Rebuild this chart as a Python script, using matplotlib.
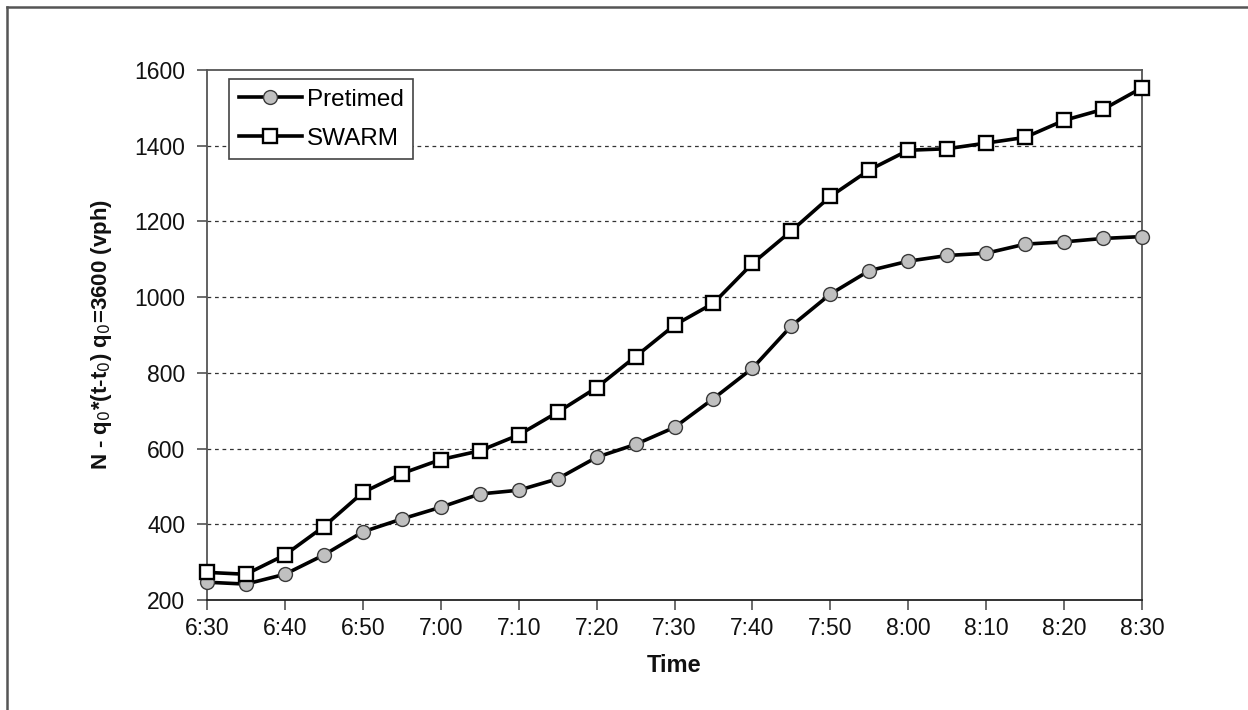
import matplotlib
matplotlib.use("Agg")
import matplotlib.pyplot as plt
from matplotlib.lines import Line2D

plt.rcParams['font.family'] = ['Liberation Sans', 'DejaVu Sans']

times = ["6:30", "6:35", "6:40", "6:45", "6:50", "6:55", "7:00", "7:05", "7:10",
         "7:15", "7:20", "7:25", "7:30", "7:35", "7:40", "7:45", "7:50", "7:55",
         "8:00", "8:05", "8:10", "8:15", "8:20", "8:25", "8:30"]
pretimed = [247, 242, 268, 319, 380, 414, 445, 480, 490, 520, 577, 611, 656,
            732, 812, 924, 1008, 1070, 1095, 1110, 1116, 1140, 1146, 1155, 1160]
swarm = [273, 268, 319, 394, 484, 534, 571, 594, 636, 696, 761, 843, 926,
         984, 1089, 1175, 1266, 1336, 1388, 1392, 1407, 1422, 1467, 1496, 1553]
yticks = [200, 400, 600, 800, 1000, 1200, 1400, 1600]

W, H = 1248, 710
fig = plt.figure(figsize=(W / 100, H / 100), dpi=100)
ax = fig.add_axes([207 / W, 1 - 600 / H, (1142 - 207) / W, (600 - 70) / H])

x = list(range(len(times)))
ax.plot(x, pretimed, color='black', lw=2.6, marker='o', ms=10,
        mfc='#c0c0c0', mec='#3a3a3a', mew=1.0, label='Pretimed', zorder=3,
        clip_on=False)
ax.plot(x, swarm, color='black', lw=2.6, marker='s', ms=10.5,
        mfc='white', mec='black', mew=1.7, label='SWARM', zorder=4,
        clip_on=False)

ax.set_xlim(0, len(times) - 1)
ax.set_ylim(200, 1600)
ax.set_yticks(yticks)
ax.set_xticks(x[::2])
ax.set_xticklabels(times[::2])

for yv in yticks[1:-1]:
    ax.axhline(yv, color='#333333', lw=0.9, ls=(0, (3, 3)), zorder=1)

for s in ax.spines.values():
    s.set_color('#555555')
    s.set_linewidth(1.3)
ax.spines['bottom'].set_color('#222222')

ax.tick_params(axis='both', direction='out', length=7.5, width=1.1,
               color='#444444', labelsize=16.5, labelcolor='#111111')
ax.tick_params(axis='x', pad=5)
ax.tick_params(axis='y', pad=8)

ax.set_ylabel(r'N - q$_0$*(t-t$_0$) q$_0$=3600 (vph)', fontsize=16,
              fontweight='bold', color='#111111')
ax.yaxis.set_label_coords(-0.1, 0.5)
ax.set_xlabel('Time', fontsize=17, fontweight='bold', color='#111111')
ax.xaxis.set_label_coords(0.5, -0.102)

leg = ax.legend(loc='upper left', bbox_to_anchor=(0.0235, 0.983),
                borderaxespad=0, fontsize=17.5, frameon=True, fancybox=False,
                framealpha=1, edgecolor='#444444', handlelength=2.6,
                handletextpad=0.2, labelspacing=0.7, borderpad=0.4)
leg.get_frame().set_linewidth(1.2)

# outer border (left and top)
fig.add_artist(Line2D([6.5 / W, 6.5 / W], [0, 1 - 7 / H], transform=fig.transFigure,
                      color='#555555', lw=1.8))
fig.add_artist(Line2D([6.5 / W, 1], [1 - 7 / H, 1 - 7 / H], transform=fig.transFigure,
                      color='#555555', lw=1.8))

fig.savefig('out.png', dpi=100)
